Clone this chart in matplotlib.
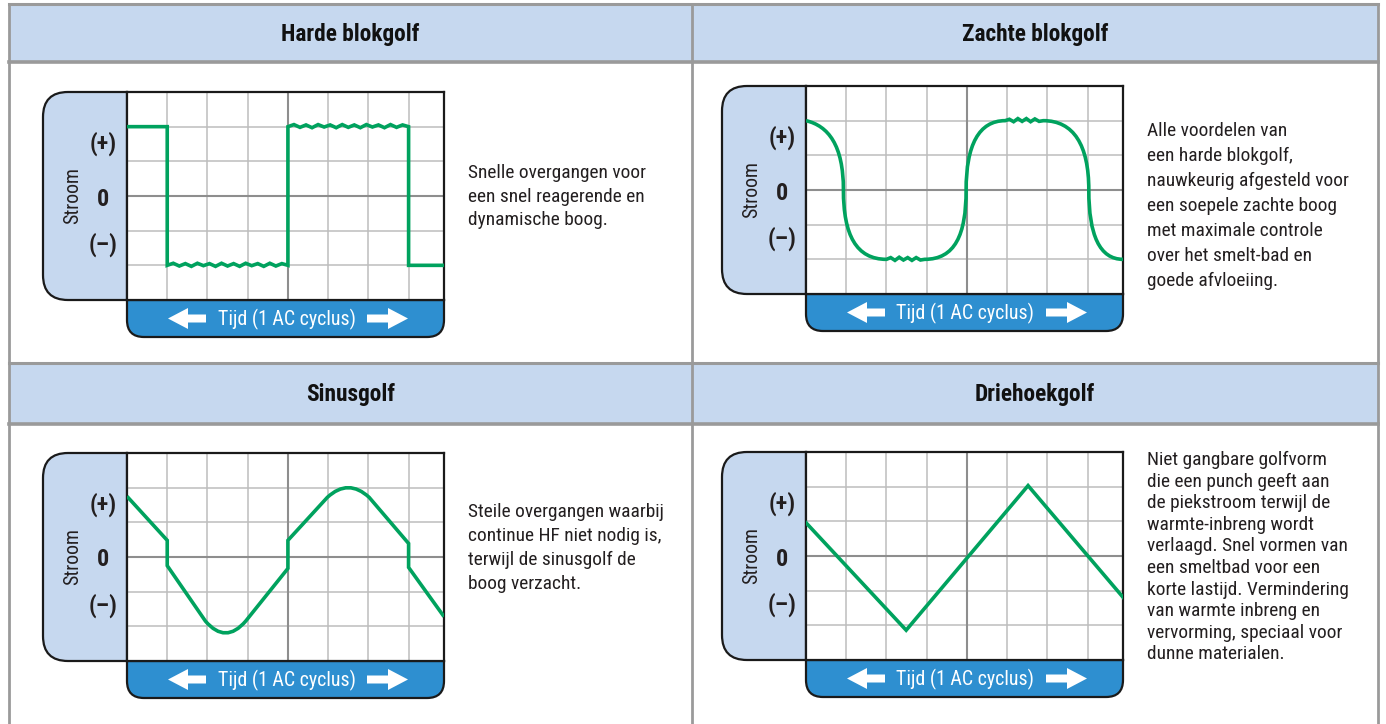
import os
import matplotlib
matplotlib.use("Agg")
import matplotlib.pyplot as plt
import numpy as np
from matplotlib.path import Path
from matplotlib.patches import PathPatch, Rectangle, FancyArrow
from matplotlib import font_manager
from matplotlib.font_manager import FontProperties

# ---------------- data ----------------
TITLES = ["Harde blokgolf", "Zachte blokgolf", "Sinusgolf", "Driehoekgolf"]
DESCRIPTIONS = [
    ["Snelle overgangen voor", "een snel reagerende en", "dynamische boog."],
    ["Alle voordelen van", "een harde blokgolf,", "nauwkeurig afgesteld voor",
     "een soepele zachte boog", "met maximale controle", "over het smelt-bad en",
     "goede afvloeiing."],
    ["Steile overgangen waarbij", "continue HF niet nodig is,",
     "terwijl de sinusgolf de", "boog verzacht."],
    ["Niet gangbare golfvorm", "die een punch geeft aan", "de piekstroom terwijl de",
     "warmte-inbreng wordt", "verlaagd. Snel vormen van", "een smeltbad voor een",
     "korte lastijd. Vermindering", "van warmte inbreng en",
     "vervorming, speciaal voor", "dunne materialen."],
]
Y_LEVEL_LABELS = ["(+)", "0", "(\u2013)"]
Y_TITLE = "Stroom"
X_TITLE = "Tijd (1 AC cyclus)"

X_MAX = 7.88          # time axis extent in grid cells
Y_MIN, Y_MAX = -3, 3  # current axis extent in grid cells

# Hard square wave: corner points
HARD_X = [0, 1, 1, 4, 4, 7, 7, 7.88]
HARD_Y = [2, 2, -2, -2, 2, 2, -2, -2]
# ripple on the plateaus (offsets, grid units)
HARD_RIPPLE_LOW = [0.00, 0.06, -0.02, 0.05, -0.03, 0.06, -0.01, 0.05, -0.03, 0.06, -0.02,
                   0.05, -0.03, 0.06, -0.01, 0.05, -0.03, 0.06, -0.02, 0.05, 0.00]
HARD_RIPPLE_HIGH = [0.00, 0.06, -0.02, 0.05, -0.03, 0.06, -0.01, 0.05, -0.03, 0.06, -0.02,
                    0.05, -0.03, 0.06, -0.01, 0.05, -0.03, 0.06, -0.02, 0.05, 0.00]

# Soft square wave: bezier segments (start, ctrl1, ctrl2, end)
SOFT_CURVES = [
    [(0.00, 2.0), (0.55, 1.85), (0.93, 1.3), (0.93, 0.0)],
    [(0.93, 0.0), (0.93, -1.3), (1.25, -2.0), (2.00, -2.0)],
    [(2.95, -2.0), (3.70, -2.0), (3.98, -1.3), (3.98, 0.0)],
    [(3.98, 0.0), (3.98, 1.3), (4.30, 2.0), (4.95, 2.0)],
    [(5.90, 2.0), (6.65, 2.0), (7.03, 1.3), (7.03, 0.0)],
    [(7.03, 0.0), (7.03, -1.3), (7.30, -2.0), (7.88, -2.0)],
]
SOFT_RIPPLE_LOW = [0.0, 0.05, -0.03, 0.06, -0.02, 0.05, -0.03, 0.05, -0.02, 0.0]
SOFT_RIPPLE_HIGH = [0.0, 0.04, -0.03, 0.06, -0.02, 0.06, -0.03, 0.05, -0.02, 0.0]

# Sine-like wave: polyline with rounded peaks (quadratic ctrl points)
SINE_VERTS = [(0.00, 1.75), (1.00, 0.48), (1.00, -0.25), (1.95, -1.85),
              (2.45, -2.53), (2.95, -1.85), (4.00, -0.33), (4.00, 0.48),
              (4.98, 1.72), (5.50, 2.28), (6.02, 1.72), (7.00, 0.39),
              (7.00, -0.30), (7.88, -1.72)]
SINE_CODES = ["M", "L", "L", "L", "Q", "Q", "L", "L", "L", "Q", "Q", "L", "L", "L"]

# Triangle wave
TRI_X = [0.00, 2.49, 5.52, 7.88]
TRI_Y = [0.96, -2.14, 2.03, -1.19]

# ---------------- style / layout ----------------
W, H = 1386, 724
HEADER_BG = "#C6D8EF"
BORDER = "#9A9A9A"
BAR_BLUE = "#2E8FD0"
GREEN = "#00A25E"
TXT = "#231F20"


# pick a condensed/narrow face if one is installed, else Roboto
def _wnum(w):
    if isinstance(w, str):
        return font_manager.weight_dict.get(w, 400)
    return w


def pick_font(bold):
    prefs = ["liberation sans narrow", "roboto condensed", "open sans condensed",
             "noto sans condensed", "dejavu sans condensed", "condensed", "narrow"]
    best = None
    for f in font_manager.fontManager.ttflist:
        key = (f.name + " " + os.path.basename(f.fname)).lower()
        if f.style != "normal":
            continue
        wn = _wnum(f.weight)
        if bold and wn < 600:
            continue
        if not bold and not (350 <= wn <= 500):
            continue
        if "semi" in key or "extra" in key:
            continue
        for rank, p in enumerate(prefs):
            if p in key or p.replace(" ", "") in key.replace(" ", "") or \
                    (rank >= 5 and p in key):
                if best is None or rank < best[0]:
                    best = (rank, f.fname)
                break
    if best is not None:
        return FontProperties(fname=best[1])
    return FontProperties(family=["Roboto", "DejaVu Sans"],
                          weight="bold" if bold else "normal")


FP_REG = pick_font(False)
FP_BOLD = pick_font(True)

fig = plt.figure(figsize=(W / 100, H / 100), dpi=100)
renderer = fig.canvas.get_renderer()


def fit_size(text, target_px, fp, base=14.0):
    t = fig.text(0, 0, text, fontproperties=fp, fontsize=base)
    w = t.get_window_extent(renderer).width
    t.remove()
    return base * target_px / w


S_BODY = fit_size("Snelle overgangen voor", 180, FP_REG)
S_TITLE = fit_size("Harde blokgolf", 139, FP_BOLD)
S_XT = fit_size(X_TITLE, 138, FP_REG)
S_LEVEL = fit_size("(+)", 27, FP_BOLD)
S_YT = fit_size(Y_TITLE, 57, FP_REG)

bg = fig.add_axes([0, 0, 1, 1])
bg.set_xlim(0, W)
bg.set_ylim(H, 0)
bg.axis("off")

# table
LEFT, MID, RIGHT, TOP = 8.5, 692, 1378, 4
HEADERS = [(TOP, 62), (363, 424)]
for (y0, y1) in HEADERS:
    bg.add_patch(Rectangle((LEFT, y0), RIGHT - LEFT, y1 - y0, facecolor=HEADER_BG,
                           edgecolor="none", zorder=1))
    bg.plot([LEFT, RIGHT], [y0, y0], color=BORDER, lw=2.2, zorder=2)
    bg.plot([LEFT, RIGHT], [y1, y1], color=BORDER, lw=2.6, zorder=2)
for xv in (LEFT, MID, RIGHT):
    bg.plot([xv, xv], [TOP, H], color=BORDER, lw=2.0, zorder=2)

title_pos = [((LEFT + MID) / 2, 35), ((MID + RIGHT) / 2, 35),
             ((LEFT + MID) / 2, 395), ((MID + RIGHT) / 2, 395)]
for t, (tx, ty) in zip(TITLES, title_pos):
    bg.text(tx, ty, t, ha="center", va="center", fontproperties=FP_BOLD,
            fontsize=S_TITLE, color="#111111", zorder=3)

PANEL_ORIGINS = [(127, 92), (806, 86), (127, 453), (806, 452)]
PW, PH, BOXW, BARH = 317, 208, 84, 37
DESC_POS = [(468, 173, 23.5), (1147, 131, 25.0), (468, 512, 24.0), (1147, 460, 21.6)]


def left_box(px, py):
    x0, x1, y0, y1, r = px - BOXW, px, py, py + PH, 25
    verts = [(x1, y0), (x0 + r, y0), (x0, y0), (x0, y0 + r), (x0, y1 - r),
             (x0, y1), (x0 + r, y1), (x1, y1), (x1, y0)]
    codes = [Path.MOVETO, Path.LINETO, Path.CURVE3, Path.CURVE3, Path.LINETO,
             Path.CURVE3, Path.CURVE3, Path.LINETO, Path.CLOSEPOLY]
    return PathPatch(Path(verts, codes), facecolor=HEADER_BG, edgecolor="#1A1A1A",
                     lw=1.6, zorder=3)


def time_bar(px, py):
    x0, x1, y0, y1, r = px, px + PW, py + PH, py + PH + BARH, 17
    verts = [(x0, y0), (x1, y0), (x1, y1 - r), (x1, y1), (x1 - r, y1), (x0 + r, y1),
             (x0, y1), (x0, y1 - r), (x0, y0)]
    codes = [Path.MOVETO, Path.LINETO, Path.LINETO, Path.CURVE3, Path.CURVE3,
             Path.LINETO, Path.CURVE3, Path.CURVE3, Path.CLOSEPOLY]
    return PathPatch(Path(verts, codes), facecolor=BAR_BLUE, edgecolor="#1A1A1A",
                     lw=1.6, zorder=3)


def ripple_pts(x0, x1, level, ripple):
    xs = np.linspace(x0, x1, len(ripple))
    return [(x, level + d) for x, d in zip(xs, ripple)]


panel_axes = []
for i, (px, py) in enumerate(PANEL_ORIGINS):
    bg.add_patch(left_box(px, py))
    bg.add_patch(time_bar(px, py))
    # axis labels
    for lab, dy in zip(Y_LEVEL_LABELS, (52, 107, 153)):
        bg.text(px - 24, py + dy, lab, ha="center", va="center", fontproperties=FP_BOLD,
                fontsize=S_LEVEL, color=TXT, zorder=4)
    bg.text(px - 54, py + 104, Y_TITLE, ha="center", va="center", rotation=90,
            fontproperties=FP_REG, fontsize=S_YT, color=TXT, zorder=4)
    cy = py + PH + BARH / 2
    bg.text(px + PW / 2 + 1, cy + 1, X_TITLE, ha="center", va="center",
            fontproperties=FP_REG, fontsize=S_XT, color="white", zorder=5)
    bg.add_patch(FancyArrow(px + 79, cy, -38, 0, width=8, head_width=21, head_length=20,
                            length_includes_head=True, color="white", lw=0, zorder=5))
    bg.add_patch(FancyArrow(px + 240, cy, 41, 0, width=8, head_width=21, head_length=20,
                            length_includes_head=True, color="white", lw=0, zorder=5))
    # description
    dx, dy0, step = DESC_POS[i]
    for k, line in enumerate(DESCRIPTIONS[i]):
        bg.text(dx, dy0 + k * step, line, ha="left", va="center", fontproperties=FP_REG,
                fontsize=S_BODY, color=TXT, zorder=4)

    ax = fig.add_axes([px / W, 1 - (py + PH) / H, PW / W, PH / H])
    ax.set_xlim(0, X_MAX)
    ax.set_ylim(Y_MIN, Y_MAX)
    ax.set_xticks(np.arange(1, 8))
    ax.set_yticks(np.arange(-2, 3))
    ax.tick_params(length=0, labelbottom=False, labelleft=False)
    ax.grid(True, color="#BDBDBD", lw=1.1)
    ax.axhline(0, color="#8E8E8E", lw=1.5)
    ax.axvline(4, color="#8E8E8E", lw=1.5)
    for s in ax.spines.values():
        s.set_color("#1A1A1A")
        s.set_linewidth(1.6)
    ax.set_axisbelow(True)
    panel_axes.append(ax)

LW = 2.6
# 1: hard square
ax = panel_axes[0]
pts = [(HARD_X[0], HARD_Y[0]), (HARD_X[1], HARD_Y[1])]
pts += ripple_pts(HARD_X[2], HARD_X[3], HARD_Y[2], HARD_RIPPLE_LOW)
pts += ripple_pts(HARD_X[4], HARD_X[5], HARD_Y[4], HARD_RIPPLE_HIGH)
pts += [(HARD_X[6], HARD_Y[6]), (HARD_X[7], HARD_Y[7])]
xs, ys = zip(*pts)
ax.plot(xs, ys, color=GREEN, lw=LW, solid_joinstyle="miter", zorder=5)

# 2: soft square
ax = panel_axes[1]
verts, codes = [SOFT_CURVES[0][0]], [Path.MOVETO]


def add_curve(c):
    verts.extend(c[1:])
    codes.extend([Path.CURVE4] * 3)


def add_line(p):
    verts.extend(p)
    codes.extend([Path.LINETO] * len(p))


add_curve(SOFT_CURVES[0]); add_curve(SOFT_CURVES[1])
add_line(ripple_pts(SOFT_CURVES[1][3][0], SOFT_CURVES[2][0][0], -2.0, SOFT_RIPPLE_LOW))
add_curve(SOFT_CURVES[2]); add_curve(SOFT_CURVES[3])
add_line(ripple_pts(SOFT_CURVES[3][3][0], SOFT_CURVES[4][0][0], 2.0, SOFT_RIPPLE_HIGH))
add_curve(SOFT_CURVES[4]); add_curve(SOFT_CURVES[5])
ax.add_patch(PathPatch(Path(verts, codes), facecolor="none", edgecolor=GREEN, lw=LW,
                       zorder=5))

# 3: sine
ax = panel_axes[2]
cmap = {"M": Path.MOVETO, "L": Path.LINETO, "Q": Path.CURVE3}
ax.add_patch(PathPatch(Path(SINE_VERTS, [cmap[c] for c in SINE_CODES]),
                       facecolor="none", edgecolor=GREEN, lw=LW, zorder=5,
                       joinstyle="miter"))

# 4: triangle
ax = panel_axes[3]
ax.plot(TRI_X, TRI_Y, color=GREEN, lw=LW, solid_joinstyle="miter", zorder=5)

fig.savefig("out.png", dpi=100)
